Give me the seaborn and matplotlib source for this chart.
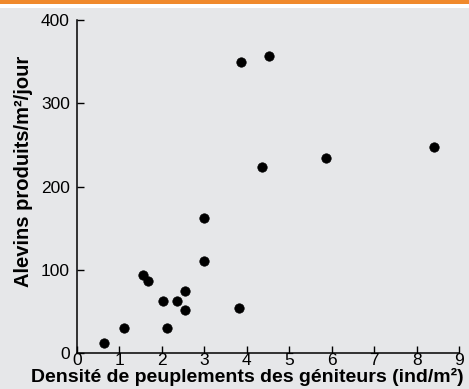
import numpy as np
import pandas as pd
import matplotlib
matplotlib.use("Agg")
import matplotlib.pyplot as plt
import seaborn as sns
from matplotlib.patches import Rectangle

# densite des geniteurs (ind/m2) et alevins produits (/m2/jour)
densite = [0.64, 1.11, 1.56, 1.68, 2.03, 2.11, 2.36, 2.54, 2.54, 2.99, 2.99,
           3.82, 3.86, 4.35, 4.53, 5.86, 8.40]
alevins = [12, 30, 94, 86, 62, 30, 62, 52, 74, 162, 111,
           54, 349, 223, 357, 234, 247]

x_ticks = [0, 1, 2, 3, 4, 5, 6, 7, 8, 9]
y_ticks = [0, 100, 200, 300, 400]

df = pd.DataFrame({"densite": densite, "alevins": alevins})

sns.set_style("ticks")
plt.rcParams['font.family'] = ['Liberation Sans', 'DejaVu Sans']
plt.rcParams['text.color'] = 'black'
plt.rcParams['axes.labelcolor'] = 'black'

bg = "#e6e7e9"
fig = plt.figure(figsize=(4.69, 3.89), dpi=100, facecolor=bg)
ax = fig.add_axes([0.164, 0.0925, 0.815, 0.856])
ax.set_facecolor(bg)

# bandeau du haut (bord de la page)
fig.patches.append(Rectangle((0, 0.979), 1, 0.021, transform=fig.transFigure,
                             facecolor="white", edgecolor="none", zorder=0))
fig.patches.append(Rectangle((0, 0.991), 1, 0.009, transform=fig.transFigure,
                             facecolor="#f0892c", edgecolor="none", zorder=1))

sns.scatterplot(data=df, x="densite", y="alevins", ax=ax, color="black",
                s=46, edgecolor="black", linewidth=0.5, clip_on=False)

ax.set_xlim(0, 9)
ax.set_ylim(0, 400)
ax.set_xticks(x_ticks)
ax.set_yticks(y_ticks)
sns.despine(ax=ax)
for s in ["left", "bottom"]:
    ax.spines[s].set_linewidth(1.1)
    ax.spines[s].set_color("black")
ax.tick_params(direction="in", length=5, width=1, labelsize=12.5, pad=0,
               colors="black", labelcolor="black")
ax.tick_params(axis="y", pad=5)

ax.set_xlabel("Densité de peuplements des géniteurs (ind/m²)", fontsize=14,
              fontweight="bold", labelpad=0)
ax.xaxis.set_label_coords(0.445, -0.045, transform=ax.transAxes)
ax.xaxis.label.set_va("top")
ax.set_ylabel("Alevins produits/m²/jour", fontsize=14.5, fontweight="bold")
ax.yaxis.set_label_coords(-0.115, 0.544, transform=ax.transAxes)

fig.savefig("out.png", dpi=100, facecolor=bg)
